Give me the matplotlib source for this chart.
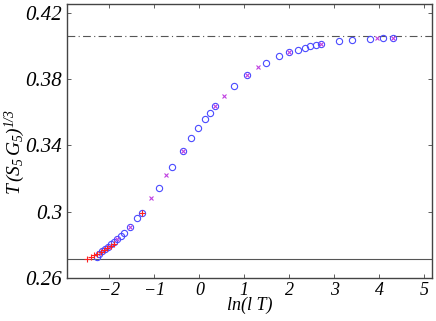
import numpy as np
import matplotlib
matplotlib.use("Agg")
import matplotlib.pyplot as plt

plt.rcParams['font.family'] = ['Liberation Serif', 'DejaVu Serif']
plt.rcParams['font.style'] = 'italic'
plt.rcParams['mathtext.fontset'] = 'custom'
plt.rcParams['mathtext.rm'] = 'Liberation Serif:italic'
plt.rcParams['mathtext.it'] = 'Liberation Serif:italic'

# 青い丸
circ_x = [4.30, 4.09, 3.80, 3.39, 3.10, 2.70, 2.59, 2.47, 2.34, 2.19, 2.00, 1.77,
          1.48, 1.07, 0.77, 0.35, 0.24, 0.12, -0.02, -0.18, -0.37, -0.60, -0.89,
          -1.28, -1.38, -1.55, -1.67, -1.75, -1.82, -1.89, -1.96, -2.02, -2.10,
          -2.17, -2.24, -2.27]
circ_y = [0.4052, 0.4050, 0.4046, 0.4038, 0.4030, 0.4012, 0.4006, 0.4000, 0.3992,
          0.3979, 0.3963, 0.3939, 0.3901, 0.3826, 0.3759, 0.3638, 0.3599, 0.3557,
          0.3505, 0.3442, 0.3369, 0.3268, 0.3143, 0.2993, 0.2958, 0.2904, 0.2868,
          0.2852, 0.2832, 0.2818, 0.2804, 0.2787, 0.2773, 0.2759, 0.2741, 0.2727]

# マゼンタの×
cross_x = [4.30, 3.94, 2.70, 2.00, 1.30, 1.07, 0.54, 0.35, -0.37, -0.74, -1.07,
           -1.55, -1.82, -2.02]
cross_y = [0.4052, 0.4050, 0.4012, 0.3963, 0.3872, 0.3826, 0.3701, 0.3638, 0.3369,
           0.3220, 0.3082, 0.2904, 0.2832, 0.2787]

# 赤い＋
plus_x = [-1.28, -1.90, -1.96, -2.05, -2.12, -2.19, -2.27, -2.34, -2.41, -2.49]
plus_y = [0.2993, 0.2805, 0.2792, 0.2778, 0.2765, 0.2755, 0.2745, 0.2735, 0.2723,
          0.2711]

# 水平線
upper_level = 0.4062
lower_level = 0.2711

fig = plt.figure(figsize=(4.36, 3.21), dpi=100)
ax = fig.add_axes([0.1537, 0.1352, 0.8371, 0.8508])

ax.axhline(upper_level, color='#555555', lw=0.8, ls='-.', dashes=(7, 3, 1, 3))
ax.axhline(lower_level, color='#555555', lw=0.8, ls='-')

ax.plot(circ_x, circ_y, 'o', mfc='none', mec='#4a4aff', mew=0.8, ms=4.5)
ax.plot(cross_x, cross_y, 'x', color='#c040e0', mew=0.8, ms=3.5)
ax.plot(plus_x, plus_y, '+', color='#ff2020', mew=0.8, ms=4.5)

ax.set_xlim(-2.94, 5.17)
ax.set_ylim(0.26, 0.4253)
ax.set_xticks([-2, -1, 0, 1, 2, 3, 4, 5])
ax.set_yticks([0.26, 0.3, 0.34, 0.38, 0.42])
ax.set_yticklabels(['0.26', '0.3', '0.34', '0.38', '0.42'], fontsize=15)
ax.set_xticklabels(['\u22122', '\u22121', '0', '1', '2', '3', '4', '5'], fontsize=13)
for lbl in ax.get_xticklabels() + ax.get_yticklabels():
    lbl.set_fontstyle('italic')

ax.tick_params(direction='in', top=True, right=True, length=3, width=0.6,
               colors='#444444', labelcolor='black')
for s in ax.spines.values():
    s.set_color('#444444')
    s.set_linewidth(1.0)

ax.set_xlabel('ln(l T)', fontsize=13, labelpad=-2, fontstyle='italic')
ax.set_ylabel('$T\\,(S_5\\,G_5)^{1/3}$', fontsize=14)
ax.yaxis.set_label_coords(-0.11, 0.46)

fig.savefig('out.png', dpi=100)
